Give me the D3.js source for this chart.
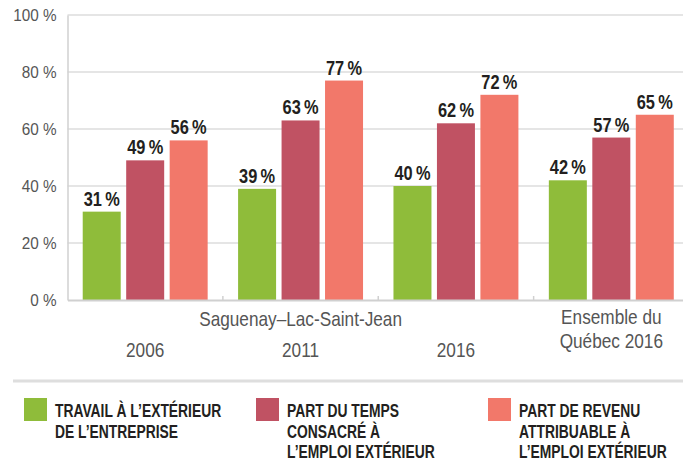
<!DOCTYPE html>
<html><head><meta charset="utf-8">
<script src="https://cdn.jsdelivr.net/npm/d3@7"></script>
<style>
html,body{margin:0;padding:0;background:#fff;}
svg{display:block;}
text{font-family:"Liberation Sans",Arial,sans-serif;}
</style></head>
<body>
<svg id="c" width="683" height="461"></svg>
<script>
const groups = ["2006", "2011", "2016", "Ensemble du Québec 2016"];
const seriesNames = ["TRAVAIL À L’EXTÉRIEUR|DE L’ENTREPRISE", "PART DU TEMPS|CONSACRÉ À|L’EMPLOI EXTÉRIEUR", "PART DE REVENU|ATTRIBUABLE À|L’EMPLOI EXTÉRIEUR"];
const travail = [31, 39, 40, 42];
const temps = [49, 63, 62, 57];
const revenu = [56, 77, 72, 65];
const yTicks = [0, 20, 40, 60, 80, 100];
const colors = ["#8fbc3a", "#c05263", "#f2786a"];
const regionLabel = "Saguenay–Lac-Saint-Jean";

const series = [travail, temps, revenu];
const svg = d3.select("#c");
const mLeft = 67.5, mRight = 689, mTop = 15, mBottom = 300;

// horizontally condense text around its anchor x
function condense(f) {
  return sel => sel.each(function() {
    const ax = +(this.getAttribute("x") || 0);
    this.setAttribute("transform", `matrix(${f},0,0,1,${ax * (1 - f)},0)`);
  });
}

const x = d3.scaleBand().domain(groups).range([mLeft, mRight]).paddingInner(0).paddingOuter(0);
const xs = d3.scaleBand().domain([0,1,2]).range([0, x.bandwidth()]).paddingInner(0.126).paddingOuter(0.35);
const y = d3.scaleLinear().domain([0, 100]).range([mBottom, mTop]);

// gridlines
svg.append("g").selectAll("line").data(yTicks.filter(d=>d>0)).join("line")
  .attr("x1", mLeft).attr("x2", mRight).attr("y1", d=>y(d)).attr("y2", d=>y(d))
  .attr("stroke", "#dcdcdc").attr("stroke-width", 1.5);

// y axis
const ya = d3.axisLeft(y).tickValues(yTicks).tickSize(0).tickPadding(11).tickFormat(d => d + " %");
const yg = svg.append("g").attr("transform", `translate(${mLeft},0)`).call(ya);
yg.select(".domain").attr("stroke", "#d0d0d0").attr("stroke-width", 1.5);
yg.selectAll("text").attr("font-size", 17).attr("fill", "#555")
  .style("font-family", '"Liberation Sans",Arial,sans-serif').call(condense(0.9));

// bars
const gg = svg.append("g").selectAll("g").data(groups).join("g")
  .attr("transform", d => `translate(${x(d)},0)`);
gg.selectAll("rect").data((g, i) => series.map((s, k) => ({k, v: s[i]}))).join("rect")
  .attr("x", d => xs(d.k)).attr("width", xs.bandwidth())
  .attr("y", d => y(d.v)).attr("height", d => y(0) - y(d.v))
  .attr("fill", d => colors[d.k]);
gg.selectAll("text").data((g, i) => series.map((s, k) => ({k, v: s[i]}))).join("text")
  .attr("x", d => xs(d.k) + xs.bandwidth()/2).attr("y", d => y(d.v) - 6)
  .attr("text-anchor", "middle").attr("font-size", 20).attr("font-weight", "bold")
  .attr("fill", "#231f20").text(d => d.v + "\u2009%").call(condense(0.82));

// x axis
const xa = d3.axisBottom(x).tickSize(0).tickFormat("");
const xg = svg.append("g").attr("transform", `translate(0,${mBottom})`).call(xa);
xg.select(".domain").attr("stroke", "#d0d0d0").attr("stroke-width", 2);
// separators between groups
svg.append("g").selectAll("line").data(groups.slice(1)).join("line")
  .attr("x1", d => x(d)).attr("x2", d => x(d)).attr("y1", mBottom - 4).attr("y2", mBottom)
  .attr("stroke", "#d0d0d0").attr("stroke-width", 1.5);

// category labels
const cat = svg.append("g").attr("fill", "#555").attr("font-size", 21).attr("text-anchor", "middle");
cat.append("text").attr("x", x(groups[1]) + x.bandwidth()/2).attr("y", 326).text(regionLabel);
groups.slice(0,3).forEach(g => {
  cat.append("text").attr("x", x(g) + x.bandwidth()/2).attr("y", 357).text(g);
});
const ens = groups[3].split(" ");
cat.append("text").attr("x", x(groups[3]) + x.bandwidth()/2).attr("y", 324).text(ens.slice(0,2).join(" "));
cat.append("text").attr("x", x(groups[3]) + x.bandwidth()/2).attr("y", 348).text(ens.slice(2).join(" "));
cat.selectAll("text").call(condense(0.82));

// legend separator
svg.append("line").attr("x1", 13).attr("x2", 683).attr("y1", 381).attr("y2", 381)
  .attr("stroke", "#dedede").attr("stroke-width", 3);

// legend
const lx = [24, 256, 488];
series.forEach((s, k) => {
  const g = svg.append("g").attr("transform", `translate(${lx[k]},398)`);
  g.append("rect").attr("width", 23).attr("height", 23).attr("fill", colors[k]);
  seriesNames[k].split("|").forEach((line, i) => {
    g.append("text").attr("x", 31).attr("y", 19.5 + i * 20.5).attr("font-size", 18)
      .attr("font-weight", "bold").attr("fill", "#231f20").text(line);
  });
  g.selectAll("text").call(condense(0.77));
});
</script>
</body></html>
